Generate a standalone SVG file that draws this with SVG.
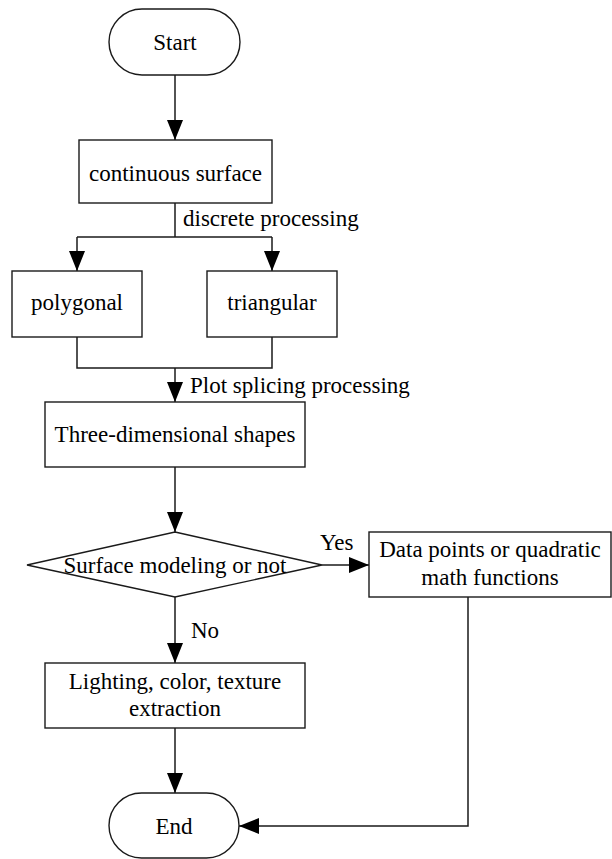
<svg xmlns="http://www.w3.org/2000/svg" width="612" height="859" viewBox="0 0 612 859" font-family="Liberation Serif, Times New Roman, Tinos, Noto Serif, DejaVu Serif, serif">
  <style>
    .shape { fill: #ffffff; stroke: #1a1a1a; stroke-width: 1.4; }
    .wire { fill: none; stroke: #1a1a1a; stroke-width: 1.5; }
    text { font-size: 23px; fill: #000000; }
    .mid { text-anchor: middle; }
  </style>
  <defs>
    <marker id="arrow" markerUnits="userSpaceOnUse" markerWidth="22" markerHeight="18" refX="20" refY="8" orient="auto">
      <path d="M0,0 L20,8 L0,16 z" fill="#000000"/>
    </marker>
  </defs>

  <rect width="612" height="859" fill="#ffffff"/>

  <g id="connectors">
    <line class="wire" x1="175" y1="75" x2="175" y2="140" marker-end="url(#arrow)"/>
    <line class="wire" x1="175" y1="203" x2="175" y2="237"/>
    <line class="wire" x1="77" y1="237" x2="272" y2="237"/>
    <line class="wire" x1="77" y1="237" x2="77" y2="271" marker-end="url(#arrow)"/>
    <line class="wire" x1="272" y1="237" x2="272" y2="271" marker-end="url(#arrow)"/>
    <polyline class="wire" points="77,337 77,368 272,368 272,337"/>
    <line class="wire" x1="175" y1="368" x2="175" y2="402" marker-end="url(#arrow)"/>
    <line class="wire" x1="175" y1="467" x2="175" y2="532" marker-end="url(#arrow)"/>
    <line class="wire" x1="322" y1="565" x2="369" y2="565" marker-end="url(#arrow)"/>
    <line class="wire" x1="175" y1="597" x2="175" y2="663" marker-end="url(#arrow)"/>
    <line class="wire" x1="175" y1="728" x2="175" y2="793" marker-end="url(#arrow)"/>
    <polyline class="wire" points="468,597 468,826 239,826" marker-end="url(#arrow)"/>
    <text x="183" y="226">discrete processing</text>
    <text x="190" y="393">Plot splicing processing</text>
    <text x="320" y="550">Yes</text>
    <text x="191" y="638">No</text>
  </g>

  <g id="start">
    <rect class="shape" x="109" y="9" width="131" height="66" rx="33" ry="33"/>
    <text class="mid" x="175" y="50">Start</text>
  </g>

  <g id="continuous-surface">
    <rect class="shape" x="79" y="140" width="193" height="63"/>
    <text class="mid" x="175.5" y="181">continuous surface</text>
  </g>

  <g id="polygonal">
    <rect class="shape" x="12" y="271" width="130" height="66"/>
    <text class="mid" x="77" y="310">polygonal</text>
  </g>

  <g id="triangular">
    <rect class="shape" x="207" y="271" width="130" height="66"/>
    <text class="mid" x="272" y="310">triangular</text>
  </g>

  <g id="three-dimensional-shapes">
    <rect class="shape" x="45" y="402" width="260" height="65"/>
    <text class="mid" x="175" y="442">Three-dimensional shapes</text>
  </g>

  <g id="surface-modeling">
    <polygon class="shape" points="175,532 322,565 175,597 27,565"/>
    <text class="mid" x="175" y="573">Surface modeling or not</text>
  </g>

  <g id="data-points">
    <rect class="shape" x="369" y="532" width="242" height="65"/>
    <text class="mid" x="490" y="557">Data points or quadratic</text>
    <text class="mid" x="490" y="585">math functions</text>
  </g>

  <g id="lighting">
    <rect class="shape" x="45" y="663" width="260" height="65"/>
    <text class="mid" x="175" y="689">Lighting, color, texture</text>
    <text class="mid" x="175" y="716">extraction</text>
  </g>

  <g id="end">
    <rect class="shape" x="109" y="793" width="130" height="65" rx="32.5" ry="32.5"/>
    <text class="mid" x="174" y="834">End</text>
  </g>
</svg>
